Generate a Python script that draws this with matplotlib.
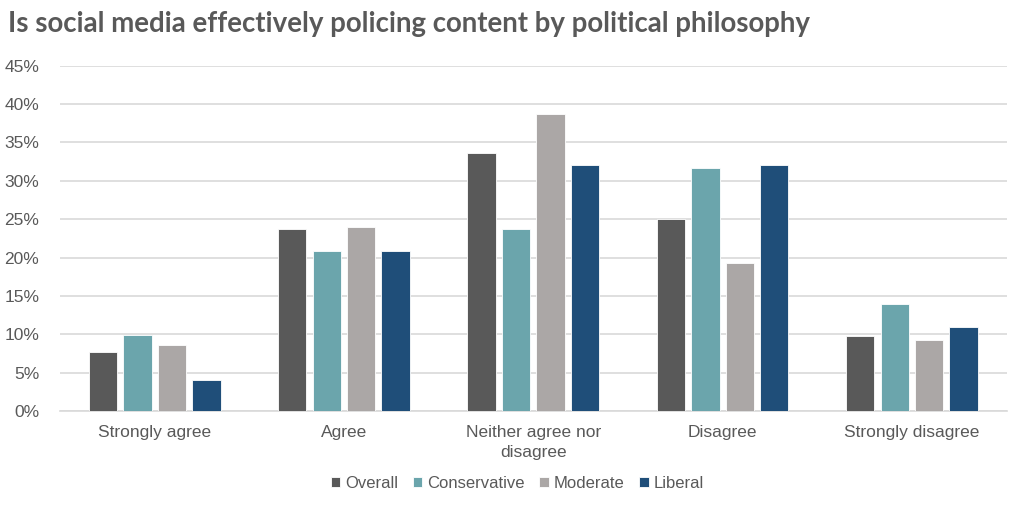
import matplotlib.pyplot as plt
import numpy as np

categories = ["Strongly agree", "Agree", "Neither agree nor\ndisagree",
              "Disagree", "Strongly disagree"]
series_names = ["Overall", "Conservative", "Moderate", "Liberal"]
overall = [7.7, 23.7, 33.6, 25.0, 9.8]
conservative = [9.9, 20.8, 23.7, 31.7, 13.9]
moderate = [8.6, 24.0, 38.7, 19.3, 9.3]
liberal = [4.0, 20.9, 32.0, 32.0, 11.0]
colors = ["#595959", "#6BA5AC", "#ABA7A6", "#1F4E79"]
yticks = [0, 5, 10, 15, 20, 25, 30, 35, 40, 45]

text_color = "#595959"

fig = plt.figure(figsize=(10.24, 5.05), dpi=100)
ax = fig.add_axes([0.0586, 0.186, 0.9244, 0.684])

x = np.arange(len(categories))
step = 0.182
width = 0.15
all_series = [overall, conservative, moderate, liberal]
for i, (name, vals) in enumerate(zip(series_names, all_series)):
    ax.bar(x + (i - 1.5) * step, vals, width, color=colors[i], label=name,
           edgecolor="white", linewidth=0.6, zorder=3)

ax.set_xlim(-0.5, len(categories) - 0.5)
ax.set_ylim(0, 45)
ax.set_yticks(yticks)
ax.set_yticklabels([f"{v}%" for v in yticks], family="Liberation Sans",
                   fontsize=12.5, color=text_color)
ax.set_xticks(x)
ax.set_xticklabels(categories, family="Liberation Sans", fontsize=12.5,
                   color=text_color, linespacing=1.4)
ax.tick_params(axis="both", length=0)
ax.tick_params(axis="y", pad=15)
ax.tick_params(axis="x", pad=10)
ax.grid(axis="y", color="#D9D9D9", linewidth=1.2, zorder=0)
for s in ["top", "right", "left"]:
    ax.spines[s].set_visible(False)
ax.spines["bottom"].set_color("#D9D9D9")
ax.spines["bottom"].set_linewidth(1.2)

fig.text(0.008, 0.952, "Is social media effectively policing content by political philosophy",
         fontsize=19.9, fontweight="bold", family="Lato", color=text_color,
         ha="left", va="center")

ax.legend(loc="center", bbox_to_anchor=(0.483, -0.21), ncol=4, frameon=False,
          prop={"family": "Liberation Sans", "size": 12}, labelcolor=text_color,
          handlelength=0.55, handleheight=0.55, handletextpad=0.3, columnspacing=0.9)

fig.savefig("out.png", dpi=100)
